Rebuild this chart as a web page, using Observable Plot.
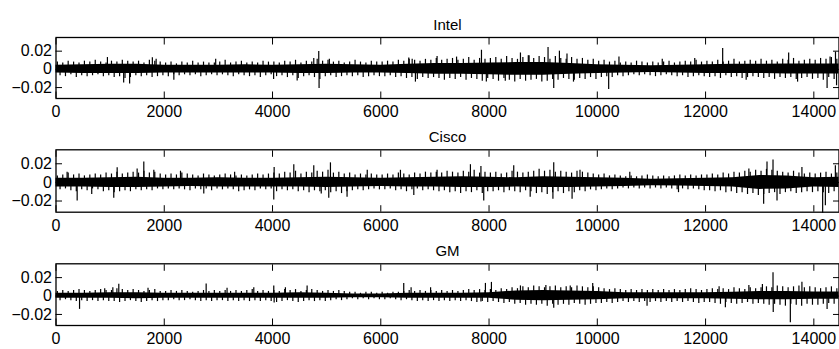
<!DOCTYPE html>
<html><head><meta charset="utf-8">
<script src="https://cdn.jsdelivr.net/npm/d3@7"></script>
<script src="https://cdn.jsdelivr.net/npm/@observablehq/plot@0.6"></script>
<style>body{margin:0;background:#fff} svg{display:block}</style>
</head><body><div id="c"></div><script>
const titles = ["Intel", "Cisco", "GM"];
const xTicks = [0, 2000, 4000, 6000, 8000, 10000, 12000, 14000];
const xTickLabels = ["0", "2000", "4000", "6000", "8000", "10000", "12000", "14000"];
const yTicks = [-0.02, 0, 0.02];
const yTickLabels = ["\u22120.02", "0", "0.02"];
const nObs = 14465;

// dense core of the band: breakpoints (observation index) and upper / lower edges
const coreIdx = [0,500,1000,1500,2000,2500,3000,3500,4000,4500,5000,5500,6000,6500,7000,7500,8000,8500,9000,9500,10000,10500,11000,11500,12000,12500,13000,13500,14000,14465];
const intelCoreHi = [0.0045,0.005,0.0055,0.0055,0.0045,0.0045,0.0045,0.005,0.0045,0.005,0.0055,0.005,0.0045,0.0055,0.0065,0.0065,0.007,0.0075,0.0075,0.0065,0.005,0.0045,0.004,0.0045,0.005,0.0055,0.0055,0.006,0.006,0.006];
const intelCoreLo = [-0.004,-0.0045,-0.0045,-0.0045,-0.004,-0.004,-0.004,-0.004,-0.004,-0.0045,-0.0045,-0.004,-0.004,-0.0045,-0.0055,-0.0055,-0.006,-0.0065,-0.0065,-0.0055,-0.0045,-0.004,-0.0035,-0.004,-0.0045,-0.0045,-0.0045,-0.005,-0.005,-0.005];
const ciscoCoreHi = [0.0045,0.0045,0.005,0.0055,0.0045,0.0045,0.005,0.0045,0.0045,0.005,0.0055,0.005,0.0045,0.005,0.0055,0.006,0.0055,0.005,0.006,0.0055,0.005,0.0045,0.0035,0.004,0.0045,0.005,0.0075,0.007,0.005,0.0055];
const ciscoCoreLo = [-0.005,-0.005,-0.0055,-0.0055,-0.005,-0.0045,-0.005,-0.005,-0.005,-0.005,-0.0055,-0.005,-0.0045,-0.005,-0.005,-0.0055,-0.0055,-0.005,-0.0055,-0.0055,-0.005,-0.0045,-0.0035,-0.004,-0.0045,-0.005,-0.0075,-0.007,-0.005,-0.0055];
const gmCoreHi = [0.003,0.003,0.0035,0.0035,0.003,0.003,0.003,0.003,0.003,0.0035,0.003,0.0022,0.0022,0.003,0.003,0.003,0.0035,0.0055,0.006,0.0055,0.005,0.0035,0.0035,0.0035,0.0035,0.004,0.005,0.005,0.0045,0.0045];
const gmCoreLo = [-0.0025,-0.0025,-0.0025,-0.003,-0.0025,-0.0025,-0.0025,-0.0025,-0.0025,-0.0025,-0.0025,-0.0018,-0.0018,-0.0025,-0.0025,-0.0025,-0.0025,-0.0045,-0.005,-0.0045,-0.004,-0.003,-0.003,-0.003,-0.003,-0.0035,-0.004,-0.004,-0.0035,-0.0035];

// hairs along the band edge, one per 100 observations, in thousandths (up = above 0, down = below 0)
const intelUp = [8,7,9,8,7,9,8,10,8,7,9,8,10,9,8,9,7,10,9,8, 7,8,6,8,7,9,7,8,7,7,8,10,7,8,9,7,8,7,9,8, 8,7,9,8,10,7,9,8,11,9,10,8,9,7,8,10,8,7,9,8, 8,9,8,10,9,11,10,9,11,10,12,10,11,12,10,11,13,10,12,11, 12,13,11,14,12,11,13,15,12,14,13,11,14,12,11,13,11,12,10,11, 9,10,8,9,7,8,7,9,8,7,8,7,8,9,7,8,9,8,10,8, 9,8,10,8,9,11,8,9,10,9,11,9,10,8,11,10,12,9,10,11, 10,12,11,13,11];
const intelDown = [7,8,6,9,7,8,7,6,8,7,9,8,10,9,7,8,7,9,8,7, 8,6,7,6,7,6,8,7,6,7,6,7,8,6,7,8,7,9,7,6, 8,7,9,7,10,8,7,9,11,8,7,9,8,7,8,7,9,8,7,8, 8,7,9,8,10,9,11,9,10,9,10,12,10,11,9,12,10,11,13,10, 11,13,10,12,14,11,13,12,11,14,13,11,12,10,11,12,10,11,9,11, 9,8,9,7,8,7,6,7,6,7,8,7,6,7,8,7,9,8,7,8, 9,8,10,7,9,8,10,9,8,9,10,9,11,9,10,9,11,10,9,11, 10,12,9,11,10];
const ciscoUp = [7,8,10,8,9,7,8,9,8,10,9,11,9,10,11,10,12,10,11,9, 8,9,8,10,9,8,7,9,8,7,8,9,8,7,8,7,8,9,8,9, 10,9,11,10,12,9,11,10,12,11,13,10,11,9,10,8,9,8,9,8, 8,9,8,10,9,8,10,9,11,10,11,10,12,11,10,12,11,13,10,11, 10,11,9,10,12,11,10,11,12,14,12,13,11,12,11,10,12,11,10,9, 8,9,7,8,7,6,7,6,7,8,7,6,7,6,7,8,7,8,7,8, 8,9,8,10,9,11,10,12,11,13,12,14,13,12,11,10,12,10,9,10, 9,10,11,9,10];
const ciscoDown = [8,7,9,10,8,9,7,8,10,9,11,10,9,10,8,9,8,9,7,8, 7,8,7,8,9,7,8,7,9,7,8,7,8,10,9,8,9,7,8,7, 10,8,9,8,10,9,11,9,10,9,11,10,12,10,9,8,9,8,7,8, 8,7,9,8,10,8,7,9,8,9,10,9,11,10,12,10,11,9,12,10, 10,9,11,9,10,11,9,10,12,11,13,11,10,12,10,11,9,10,8,9, 8,7,8,7,6,7,6,7,6,7,6,7,6,7,8,7,8,7,8,9, 9,10,9,11,10,12,11,13,12,14,13,12,11,13,11,10,12,11,10,11, 10,11,12,10,11];
const gmUp = [5,6,5,6,7,6,5,6,7,6,6,8,7,6,7,6,5,6,7,5, 5,6,5,6,5,4,5,6,5,6,5,6,5,6,5,6,7,5,6,5, 6,5,7,6,7,5,6,7,6,5,6,5,6,5,4,4,3,4,4,3, 4,3,4,4,5,6,5,6,5,6,5,6,5,6,5,6,7,6,7,6, 7,6,8,7,9,8,10,9,11,10,9,10,11,9,10,9,11,10,9,10, 9,8,7,8,7,6,7,6,7,6,7,6,7,6,7,6,7,8,7,6, 7,8,7,8,7,9,8,7,9,8,9,10,9,11,10,9,10,11,9,10, 9,8,9,10,8];
const gmDown = [5,4,5,6,5,6,5,6,5,6,6,7,6,5,6,7,6,5,6,5, 5,4,5,5,4,5,6,5,6,5,5,6,5,6,5,6,5,6,5,6, 7,6,5,6,7,6,5,6,5,6,5,4,5,4,3,4,3,4,3,4, 4,3,4,5,4,5,6,5,6,5,6,5,6,5,6,5,6,7,6,7, 6,7,8,7,9,8,10,9,10,9,11,9,10,9,10,8,9,10,9,8, 8,7,8,7,6,7,6,7,6,7,6,7,6,7,6,7,6,7,8,7, 7,8,9,7,8,9,8,7,9,8,9,10,9,10,11,9,10,11,9,10, 10,9,8,9,10];

// larger individual spikes [observation index, return]
const intelSpikes = [[950,0.013],[1250,-0.015],[1360,-0.016],[1780,0.0128],[1850,0.011],[2177,-0.012],[2950,0.011],[4020,-0.011],[4455,-0.0128],[4762,0.012],[4854,0.0195],[4860,-0.021],[5050,0.011],[6517,0.0125],[6580,0.011],[6640,-0.014],[7040,0.014],[7400,0.0135],[7860,0.021],[7950,-0.014],[8300,-0.013],[8580,0.018],[8740,0.015],[9090,0.024],[9195,-0.021],[9300,0.020],[9440,0.017],[9560,-0.014],[10210,-0.022],[10400,0.0135],[11200,0.011],[11800,0.012],[12316,0.023],[12750,-0.012],[13535,0.018],[13700,-0.014],[14245,-0.021],[14300,0.0135],[14400,0.019],[14420,-0.018]];
const ciscoSpikes = [[205,0.011],[391,-0.020],[660,-0.013],[1067,-0.017],[1130,0.0156],[1499,0.0145],[1622,0.022],[1807,0.013],[2300,0.012],[2730,-0.0125],[3300,0.011],[4023,-0.019],[4030,0.016],[4393,0.019],[4762,0.018],[4900,-0.0125],[5039,-0.017],[5070,0.021],[5377,-0.016],[5750,0.013],[6363,0.013],[6610,-0.014],[7040,0.013],[7656,0.019],[7850,0.017],[7902,-0.020],[8456,0.018],[8760,-0.016],[9180,-0.018],[9195,0.021],[9534,-0.018],[9680,0.013],[10600,0.011],[11500,-0.011],[12800,0.0145],[13073,-0.0235],[13135,0.022],[13246,0.024],[13320,-0.020],[13780,0.016],[14163,-0.033],[14213,-0.025],[14398,0.018]];
const gmSpikes = [[435,-0.0145],[900,0.008],[1050,0.009],[1160,0.0127],[1700,0.0085],[2774,0.013],[3160,0.0085],[3654,0.009],[4023,0.011],[4030,-0.0075],[4238,0.009],[4639,0.011],[6424,0.0137],[6560,0.009],[6920,0.009],[7933,0.0137],[8044,0.0148],[7850,-0.0065],[8580,0.011],[9050,0.0115],[9195,-0.0134],[9500,0.011],[9915,0.0137],[10919,-0.011],[12250,0.010],[12366,-0.0127],[12800,0.0115],[13050,0.0125],[13246,0.0254],[13250,-0.018],[13566,-0.029],[13780,0.015],[14245,-0.0145]];

const series = [
  {title: titles[0], hi: intelCoreHi, lo: intelCoreLo, up: intelUp, down: intelDown, spikes: intelSpikes, mt: 37, mb: 22, h: 120},
  {title: titles[1], hi: ciscoCoreHi, lo: ciscoCoreLo, up: ciscoUp, down: ciscoDown, spikes: ciscoSpikes, mt: 29.3, mb: 21.3, h: 113},
  {title: titles[2], hi: gmCoreHi, lo: gmCoreLo, up: gmUp, down: gmDown, spikes: gmSpikes, mt: 30.3, mb: 24, h: 116}
];

const font = "'Liberation Sans', Arial, Helvetica, sans-serif";
const root = document.getElementById("c");
for (const s of series) {
  const core = coreIdx.map((x, i) => ({x, hi: s.hi[i], lo: s.lo[i]}));
  const hairs = [];
  s.up.forEach((v, k) => hairs.push({x: k * 100 + 25, v: v / 1000}));
  s.down.forEach((v, k) => hairs.push({x: k * 100 + 75, v: -v / 1000}));
  const sp = s.spikes.map(([x, v]) => ({x, v}));
  const fmtX = (d) => xTickLabels[xTicks.indexOf(d)];
  const fmtY = (d) => yTickLabels[yTicks.indexOf(d)];
  const blank = () => "";
  const chart = Plot.plot({
    width: 839, height: s.h,
    marginLeft: 55.5, marginRight: 0.5, marginTop: s.mt, marginBottom: s.mb,
    x: {domain: [0, nObs]},
    y: {domain: [-0.032, 0.035]},
    style: {fontFamily: font, fontSize: "16px", color: "black", background: "white"},
    marks: [
      Plot.areaY(core, {x: "x", y1: "lo", y2: "hi", fill: "black"}),
      Plot.ruleX(hairs, {x: "x", y1: 0, y2: "v", stroke: "black", strokeWidth: 1.2}),
      Plot.ruleX(sp, {x: "x", y1: 0, y2: "v", stroke: "black", strokeWidth: 1.2}),
      Plot.axisX(xTicks, {anchor: "bottom", tickSize: 0, tickPadding: 7, tickFormat: fmtX, label: null}),
      Plot.axisX(xTicks, {anchor: "bottom", tickSize: -6.5, tickFormat: blank, label: null}),
      Plot.axisX(xTicks, {anchor: "top", tickSize: -6.5, tickFormat: blank, label: null}),
      Plot.axisY(yTicks, {anchor: "left", tickSize: 0, tickPadding: 4, tickFormat: fmtY, label: null}),
      Plot.axisY(yTicks, {anchor: "left", tickSize: -6.5, tickFormat: blank, label: null}),
      Plot.axisY(yTicks, {anchor: "right", tickSize: -6.5, tickFormat: blank, label: null}),
      Plot.frame({stroke: "black", strokeWidth: 1.3}),
      Plot.text([s.title], {frameAnchor: "top", dy: -18.5, fontSize: 15, text: d => d, fill: "black"})
    ]
  });
  root.appendChild(chart);
}
</script></body></html>
